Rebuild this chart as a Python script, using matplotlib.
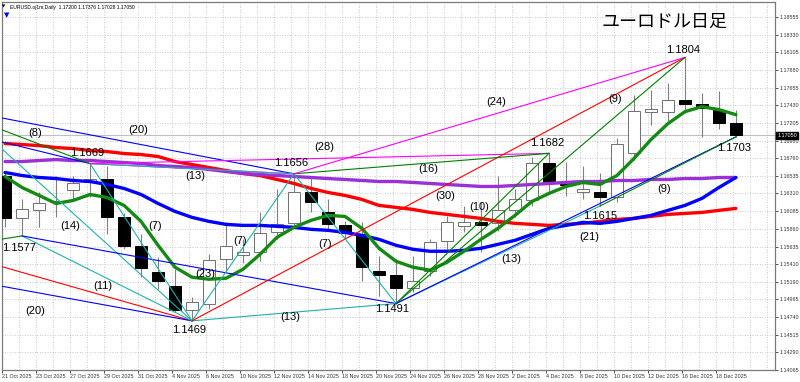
import matplotlib
matplotlib.use("Agg")
import matplotlib.pyplot as plt
import matplotlib.transforms as mtransforms

# daily candles, 21 Oct 2025 .. 19 Dec 2025
opens = [1.16526, 1.15993, 1.16094, 1.16196, 1.16348, 1.16450, 1.16500, 1.16006, 1.15638, 1.15308,
         1.15130, 1.14826, 1.14902, 1.15473, 1.15524, 1.15562, 1.15815, 1.15930, 1.16335, 1.16069,
         1.15904, 1.15790, 1.15321, 1.15270, 1.15105, 1.15321, 1.15701, 1.15891, 1.15942, 1.15930,
         1.16094, 1.16221, 1.16703, 1.16450, 1.16335, 1.16323, 1.16259, 1.16830, 1.17350, 1.17350,
         1.17502, 1.17452, 1.17376, 1.17200]
highs = [1.16589, 1.16234, 1.16335, 1.16526, 1.16526, 1.16690, 1.16653, 1.16056, 1.15790, 1.15498,
         1.15346, 1.14991, 1.15536, 1.15942, 1.15727, 1.16069, 1.16361, 1.16560, 1.16513, 1.16234,
         1.15955, 1.15942, 1.15511, 1.15473, 1.15511, 1.15727, 1.16018, 1.16145, 1.16196, 1.16526,
         1.16373, 1.16779, 1.16820, 1.16716, 1.16653, 1.16576, 1.17020, 1.17566, 1.17629, 1.17718,
         1.18040, 1.17591, 1.17617, 1.17376]
lows = [1.15879, 1.15770, 1.15879, 1.16006, 1.16209, 1.16259, 1.15790, 1.15600, 1.15245, 1.15092,
        1.14801, 1.14690, 1.14839, 1.15321, 1.15422, 1.15448, 1.15727, 1.15879, 1.16069, 1.15828,
        1.15727, 1.15194, 1.15004, 1.14910, 1.15054, 1.15257, 1.15600, 1.15815, 1.15562, 1.15828,
        1.16006, 1.16145, 1.16335, 1.16272, 1.16234, 1.16150, 1.16196, 1.16741, 1.17185, 1.17223,
        1.17337, 1.17033, 1.17135, 1.17028]
closes = [1.15993, 1.16107, 1.16183, 1.16209, 1.16437, 1.16500, 1.16006, 1.15638, 1.15359, 1.15194,
          1.14826, 1.14928, 1.15460, 1.15638, 1.15562, 1.15803, 1.15917, 1.16323, 1.16196, 1.15917,
          1.15803, 1.15371, 1.15270, 1.15105, 1.15194, 1.15689, 1.15942, 1.15942, 1.15904, 1.16094,
          1.16234, 1.16703, 1.16462, 1.16424, 1.16373, 1.16259, 1.16944, 1.17363, 1.17388, 1.17502,
          1.17452, 1.17401, 1.17200, 1.17050]

# moving averages
ma_green = [1.16526, 1.16386, 1.16285, 1.16183, 1.16221, 1.16297, 1.16259, 1.16158, 1.15955, 1.15651,
            1.15372, 1.15245, 1.15219, 1.15232, 1.15346, 1.15536, 1.15752, 1.15879, 1.15968, 1.16031,
            1.16018, 1.15866, 1.15613, 1.15448, 1.15372, 1.15334, 1.15435, 1.15575, 1.15727, 1.15866,
            1.16031, 1.16209, 1.16310, 1.16399, 1.16450, 1.16424, 1.16538, 1.16754, 1.16995, 1.17198,
            1.17350, 1.17414, 1.17376, 1.17312]
ma_blue = [1.16577, 1.16538, 1.16513, 1.16500, 1.16475, 1.16462, 1.16424, 1.16374, 1.16297, 1.16183,
           1.16082, 1.16006, 1.15955, 1.15917, 1.15904, 1.15904, 1.15892, 1.15879, 1.15854, 1.15841,
           1.15815, 1.15777, 1.15727, 1.15651, 1.15600, 1.15575, 1.15575, 1.15587, 1.15613, 1.15663,
           1.15714, 1.15790, 1.15866, 1.15904, 1.15942, 1.15930, 1.15955, 1.15993, 1.16031, 1.16095,
           1.16158, 1.16247, 1.16386, 1.16513]
ma_red = [1.16945, 1.16932, 1.16919, 1.16894, 1.16881, 1.16856, 1.16843, 1.16818, 1.16805, 1.16780,
          1.16716, 1.16678, 1.16640, 1.16602, 1.16564, 1.16538, 1.16488, 1.16437, 1.16374, 1.16323,
          1.16285, 1.16234, 1.16158, 1.16133, 1.16107, 1.16069, 1.16044, 1.16018, 1.15993, 1.15955,
          1.15930, 1.15917, 1.15904, 1.15917, 1.15930, 1.15955, 1.15980, 1.15993, 1.16018, 1.16044,
          1.16056, 1.16069, 1.16095, 1.16120]
ma_purple = [1.16716, 1.16716, 1.16729, 1.16741, 1.16729, 1.16729, 1.16716, 1.16703, 1.16691, 1.16665,
             1.16653, 1.16640, 1.16615, 1.16589, 1.16564, 1.16551, 1.16538, 1.16526, 1.16513, 1.16500,
             1.16488, 1.16475, 1.16462, 1.16462, 1.16450, 1.16437, 1.16424, 1.16412, 1.16399, 1.16399,
             1.16412, 1.16424, 1.16437, 1.16450, 1.16462, 1.16462, 1.16475, 1.16475, 1.16488, 1.16488,
             1.16500, 1.16500, 1.16513, 1.16513]

date_labels = ["21 Oct 2025", "23 Oct 2025", "27 Oct 2025", "29 Oct 2025", "31 Oct 2025",
               "4 Nov 2025", "6 Nov 2025", "10 Nov 2025", "12 Nov 2025", "14 Nov 2025",
               "18 Nov 2025", "20 Nov 2025", "24 Nov 2025", "26 Nov 2025", "28 Nov 2025",
               "2 Dec 2025", "4 Dec 2025", "8 Dec 2025", "10 Dec 2025", "12 Dec 2025",
               "16 Dec 2025", "18 Dec 2025"]
price_ticks = [1.14065, 1.14290, 1.14515, 1.14740, 1.14965, 1.15190, 1.15410, 1.15635, 1.15860,
               1.16085, 1.16310, 1.16535, 1.16760, 1.16980, 1.17205, 1.17430, 1.17655, 1.17880,
               1.18105, 1.18330, 1.18555]
bid = 1.17050

# swing points (bar, price)
pre_hi_a = (-2, 1.17345)
pre_hi_b = (-2, 1.17062)
pre_hi_c = (-2, 1.17270)
pre_hi_d = (-2, 1.17232)
pre_lo_a = (-2, 1.15668)
pre_lo_b = (-2, 1.15491)
pre_lo_c = (-8, 1.15438)
lo_1577 = (1, 1.1577)
hi_1669 = (5, 1.1669)
lo_1469 = (11, 1.1469)
hi_1656 = (17, 1.1656)
lo_1491 = (23, 1.1491)
hi_1682 = (32, 1.1682)
lo_1615 = (35, 1.1615)
hi_1804 = (40, 1.1804)
lo_1703 = (43, 1.1703)

TEAL = "#20b2aa"
fig = plt.figure(figsize=(8, 3.82), dpi=100)
ax = fig.add_axes([2 / 800, 12 / 382, 773 / 800, 368 / 382])
ax.set_xlim(-0.18, 45.3)
ax.set_ylim(1.14078, 1.18745)

n = len(opens)
xs = list(range(n))

# grid
for t in price_ticks:
    ax.axhline(t, color="#b8b8b8", lw=0.6, ls=(0, (1, 2)), zorder=0)
for i in range(0, n + 2):
    ax.axvline(i - 0.18, color="#b8b8b8", lw=0.6, ls=(0, (1, 2)), zorder=0)

ax.axhline(bid, color="#c0c0c0", lw=0.8, zorder=1)

# candles
for i in xs:
    o, h, l, c = opens[i], highs[i], lows[i], closes[i]
    ax.vlines(i, l, h, color="#808080", lw=0.8, zorder=2)
    lo_b, hi_b = min(o, c), max(o, c)
    hgt = max(hi_b - lo_b, 0.00009)
    if c >= o:
        ax.bar(i, hgt, bottom=lo_b, width=0.74, color="white", edgecolor="#707070", lw=0.7, zorder=3)
    else:
        ax.bar(i, hgt, bottom=lo_b, width=0.74, color="black", edgecolor="black", lw=0.7, zorder=3)

# moving averages
ax.plot(xs, ma_red, color="#ff0000", lw=2.4, zorder=4, solid_capstyle="round")
ax.plot(xs, ma_purple, color="#9a30d8", lw=2.4, zorder=4, solid_capstyle="round")
ax.plot(xs, ma_blue, color="#0000ff", lw=2.4, zorder=4, solid_capstyle="round")
ax.plot(xs, ma_green, color="#138a13", lw=2.4, zorder=4, solid_capstyle="round")


def tl(p0, p1, color):
    ax.plot([p0[0], p1[0]], [p0[1], p1[1]], color=color, lw=0.8, zorder=5)


tl(pre_hi_a, hi_1656, "#0000ff")
tl(pre_hi_b, hi_1669, "#0000ff")
tl(pre_hi_c, hi_1669, "#008000")
tl(pre_hi_d, lo_1469, TEAL)
tl(pre_lo_a, lo_1577, "#008000")
tl(pre_lo_b, lo_1469, "#ff0000")
tl(pre_lo_c, lo_1469, "#0000ff")
tl(lo_1577, lo_1469, TEAL)
tl(lo_1577, lo_1491, "#0000ff")
tl(hi_1669, lo_1469, TEAL)
tl(hi_1669, hi_1656, "#ff00ff")
tl(hi_1669, hi_1656, TEAL)
tl(hi_1669, hi_1682, "#ff00ff")
tl(lo_1469, hi_1656, TEAL)
tl(lo_1469, lo_1491, TEAL)
tl(lo_1469, hi_1804, "#ff0000")
tl(hi_1656, lo_1491, TEAL)
tl(hi_1656, hi_1682, "#008000")
tl(hi_1656, hi_1804, "#ff00ff")
tl(lo_1491, hi_1682, "#008000")
tl(lo_1491, hi_1804, "#008000")
tl(lo_1491, lo_1615, TEAL)
tl(lo_1491, lo_1703, "#0000ff")
tl(lo_1615, lo_1703, "#008000")

# labels
lab = dict(fontsize=8, family="Liberation Sans", ha="center", va="center", zorder=7)
for x, y, s in [(1.76, 1.17084, "(8)"), (7.82, 1.17122, "(20)"), (4.82, 1.16830, "1.1669"),
                (11.18, 1.16526, "(13)"), (3.82, 1.15892, "(14)"), (8.82, 1.15892, "(7)"),
                (0.82, 1.15612, "1.1577"), (5.76, 1.15131, "(11)"), (1.76, 1.14813, "(20)"),
                (11.76, 1.15283, "(23)"), (10.82, 1.14572, "1.1469"), (13.82, 1.15701, "(7)"),
                (16.76, 1.14737, "(13)"), (16.82, 1.16703, "1.1656"), (18.8, 1.16906, "(28)"),
                (18.8, 1.15663, "(7)"), (22.8, 1.14835, "1.1491"), (24.9, 1.16615, "(16)"),
                (25.9, 1.16272, "(30)"), (27.9, 1.16133, "(10)"), (31.9, 1.16957, "1.1682"),
                (29.8, 1.15473, "(13)"), (34.4, 1.15752, "(21)"), (28.9, 1.17477, "(24)"),
                (35.9, 1.17515, "(9)"), (39.9, 1.18137, "1.1804"), (38.8, 1.16361, "(9)"),
                (35.0, 1.16018, "1.1615"), (42.9, 1.16894, "1.1703")]:
    ax.text(x, y, s, **lab)

fig.text(665 / 800, 1 - 22 / 382, "ユーロドル日足", fontsize=13,
         family=["Noto Sans CJK JP", "DejaVu Sans"], ha="center", va="center")
fig.text(10 / 800, 1 - 7 / 382, "EURUSD.oj1m,Daily  1.17200 1.17376 1.17028 1.17050",
         fontsize=3.6, family="Liberation Sans", ha="left", va="center")
fig.text(4 / 800, 1 - 7 / 382, "\u25bc", fontsize=3, ha="center", va="center")
fig.text(7 / 800, 1 - 15 / 382, "\u25bc", fontsize=5, color="#0000ff", ha="center", va="center")

# axes
ax.yaxis.tick_right()
ax.set_yticks(price_ticks)
ax.set_yticklabels(["%.5f" % t for t in price_ticks])
ax.set_xticks([2 * k - 0.18 for k in range(len(date_labels))])
ax.set_xticklabels(date_labels, ha="left")
ax.tick_params(axis="both", length=2, width=0.6, labelsize=3.9, pad=1, colors="#333333")
for lbl in ax.get_xticklabels() + ax.get_yticklabels():
    lbl.set_family("Liberation Sans")
for sp in ax.spines.values():
    sp.set_color("#7a7a7a")
    sp.set_linewidth(0.9)

tr = mtransforms.blended_transform_factory(ax.transAxes, ax.transData)
ax.text(1.003, bid, "%.5f" % bid, transform=tr, fontsize=3.9, family="Liberation Sans",
        color="white", ha="left", va="center",
        bbox=dict(boxstyle="square,pad=0.2", fc="black", ec="black"), zorder=8, clip_on=False)

fig.savefig("out.png", dpi=100)
